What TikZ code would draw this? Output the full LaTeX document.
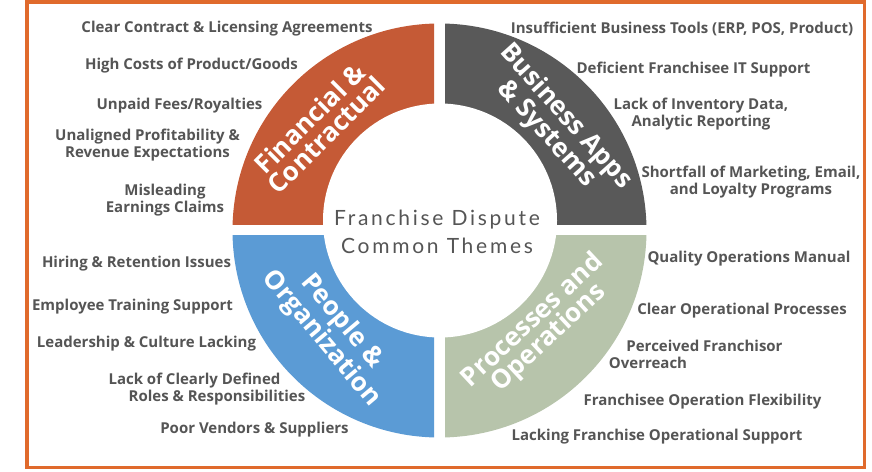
\documentclass[tikz,border=0pt]{standalone}
\usepackage{fontspec}
\setmainfont{Open Sans}
\newfontfamily\titlefont{Lato}[LetterSpace=13]
\definecolor{qorange}{HTML}{C55A36}
\definecolor{qgray}{HTML}{595959}
\definecolor{qblue}{HTML}{5B9BD5}
\definecolor{qgreen}{HTML}{B7C4AB}
\definecolor{borderc}{HTML}{E06A2C}
\definecolor{txtgray}{HTML}{555555}
\begin{document}
\begin{tikzpicture}[x=1pt,y=-1pt,
  lbl/.style={font=\bfseries\fontsize{15}{17}\selectfont, text=txtgray, align=center, inner sep=0pt, anchor=base},
  qlbl/.style={font=\bfseries\fontsize{26}{23.5}\selectfont, text=white, align=center, inner sep=0pt},
  ctitle/.style={font=\titlefont\fontsize{21}{28}\selectfont, text=txtgray, align=center, inner sep=0pt, anchor=base}]
\useasboundingbox (0,0) rectangle (872,471);
\fill[white] (0,0) rectangle (872,471);
\draw[borderc, line width=3.5pt] (27,1.8) rectangle (864.5,467.5);
\coordinate (C) at (439.5,230.5);
\begin{scope}\clip (0,0) rectangle (434,224); \fill[qorange] (C) circle[radius=207pt]; \end{scope}
\begin{scope}\clip (445,0) rectangle (872,224); \fill[qgray] (C) circle[radius=207pt]; \end{scope}
\begin{scope}\clip (0,235) rectangle (434,471); \fill[qblue] (C) circle[radius=207pt]; \end{scope}
\begin{scope}\clip (445,235) rectangle (872,471); \fill[qgreen] (C) circle[radius=207pt]; \end{scope}
\fill[white] (440,220.5) circle[radius=117pt];
% centre title
\node[ctitle] (title) at (437,253) {Franchise Dispute\\Common Themes};
% quadrant labels
\node[qlbl, rotate=45] (qfin) at (318,126.5) {Financial \&\\Contractual};
\node[qlbl, rotate=-48] (qbus) at (556,125.5) {Business Apps\\\& Systems};
\node[qlbl, rotate=-50] (qpeo) at (331.5,330) {People \&\\Organization};
\node[qlbl, rotate=43] (qpro) at (541,329.5) {Processes and\\Operations};
% top-left
\node[lbl] (f1) at (227,32) {Clear Contract \& Licensing Agreements};
\node[lbl] (f2) at (191.5,69) {High Costs of Product/Goods};
\node[lbl] (f3) at (179.5,109) {Unpaid Fees/Royalties};
\node[lbl] (f4) at (147.5,157) {Unaligned Profitability \&\\Revenue Expectations};
\node[lbl] (f5) at (165,212) {Misleading\\Earnings Claims};
% top-right
\node[lbl] (b1) at (682,33) {Insufficient Business Tools (ERP, POS, Product)};
\node[lbl] (b2) at (693.5,73) {Deficient Franchisee IT Support};
\node[lbl] (b3) at (701,126) {Lack of Inventory Data,\\Analytic Reporting};
\node[lbl] (b4) at (751,194) {Shortfall of Marketing, Email,\\and Loyalty Programs};
% bottom-left
\node[lbl] (p1) at (136.5,267) {Hiring \& Retention Issues};
\node[lbl] (p2) at (132.5,310) {Employee Training Support};
\node[lbl] (p3) at (146.5,347) {Leadership \& Culture Lacking};
\node[lbl] (p4a) at (194.5,384) {Lack of Clearly Defined};
\node[lbl] (p4b) at (217,401) {Roles \& Responsibilities};
\node[lbl] (p5) at (254.5,433) {Poor Vendors \& Suppliers};
% bottom-right
\node[lbl] (o1) at (749,262) {Quality Operations Manual};
\node[lbl] (o2) at (742,314) {Clear Operational Processes};
\node[lbl] (o3a) at (704.5,351) {Perceived Franchisor};
\node[lbl] (o3b) at (648,368) {Overreach};
\node[lbl] (o4) at (702.5,405) {Franchisee Operation Flexibility};
\node[lbl] (o5) at (657,440) {Lacking Franchise Operational Support};
\end{tikzpicture}
\end{document}
